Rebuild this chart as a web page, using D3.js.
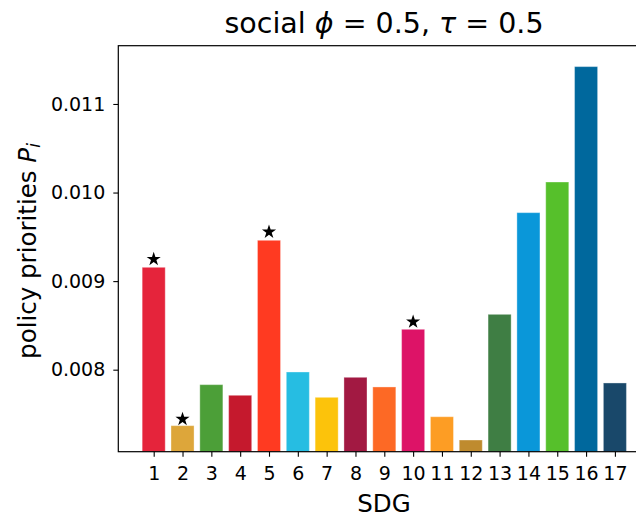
<!DOCTYPE html>
<html>
<head>
<meta charset="utf-8">
<script src="https://cdn.jsdelivr.net/npm/d3@7"></script>
<style>
  html, body { margin: 0; padding: 0; background: #fff; }
  svg { display: block; font-family: "DejaVu Sans", sans-serif; }
</style>
</head>
<body>
<svg id="chart" width="636" height="517"></svg>
<script>
// ---- data ----
const sdgs = [1, 2, 3, 4, 5, 6, 7, 8, 9, 10, 11, 12, 13, 14, 15, 16, 17];
const priorities = [0.009156, 0.007368, 0.007831, 0.007711, 0.009461, 0.007974, 0.007688, 0.007914,
                    0.007805, 0.008456, 0.007469, 0.007206, 0.008625, 0.009773, 0.010119, 0.011422, 0.007850];
const sdgColors = ["#E5243B", "#DDA63A", "#4C9F38", "#C5192D", "#FF3A21", "#26BDE2", "#FCC30B", "#A21942",
                   "#FD6925", "#DD1367", "#FD9D24", "#BF8B2E", "#3F7E44", "#0A97D9", "#56C02B", "#00689D", "#19486A"];
const starred = [1, 2, 5, 10];
const yTicks = [0.008, 0.009, 0.010, 0.011];
const yTickLabels = ["0.008", "0.009", "0.010", "0.011"];

// ---- layout ----
const svg = d3.select("#chart");
const x = d3.scaleLinear().domain([-0.228, 18.228]).range([118.3, 650.3]);
const y = d3.scaleLinear().domain([0.007074, 0.011658]).range([451.7, 45.7]);
const barW = 0.8;

const g = svg.append("g");

// bars
g.selectAll("rect.bar").data(sdgs).enter().append("rect")
  .attr("class", "bar")
  .attr("x", d => x(d - barW / 2))
  .attr("width", d => x(d + barW / 2) - x(d - barW / 2))
  .attr("y", (d, i) => y(priorities[i]))
  .attr("height", (d, i) => y(y.domain()[0]) - y(priorities[i]))
  .attr("fill", (d, i) => sdgColors[i])
  .attr("stroke", "rgba(255,255,255,0.35)")
  .attr("stroke-width", 1);

// stars
const star = d3.symbol().type(d3.symbolStar).size(62);
g.selectAll("path.star").data(starred).enter().append("path")
  .attr("class", "star")
  .attr("d", star)
  .attr("transform", d => `translate(${x(d)},${y(priorities[d - 1] * 1.01)})`)
  .attr("fill", "#000");

// axes
const yAxis = d3.axisLeft(y).tickValues(yTicks).tickFormat((d, i) => yTickLabels[i])
  .tickSizeInner(5).tickSizeOuter(0).tickPadding(8);
const yG = svg.append("g").attr("transform", `translate(${x.range()[0]},0)`).call(yAxis);
yG.select(".domain").remove();
yG.selectAll("line").attr("stroke", "#000").attr("stroke-width", 1.1);
yG.selectAll("text").attr("font-size", 19).attr("fill", "#000").attr("font-family", "DejaVu Sans");

const xAxis = d3.axisBottom(x).tickValues(sdgs).tickFormat(d3.format("d"))
  .tickSizeInner(5).tickSizeOuter(0).tickPadding(10);
const xG = svg.append("g").attr("transform", `translate(0,${y.range()[0]})`).call(xAxis);
xG.select(".domain").remove();
xG.selectAll("line").attr("stroke", "#000").attr("stroke-width", 1.1);
xG.selectAll("text").attr("font-size", 19).attr("fill", "#000").attr("font-family", "DejaVu Sans");

// spines
svg.append("rect")
  .attr("x", x.range()[0]).attr("y", y.range()[1])
  .attr("width", x.range()[1] - x.range()[0])
  .attr("height", y.range()[0] - y.range()[1])
  .attr("fill", "none").attr("stroke", "#000").attr("stroke-width", 1.2);

// labels
svg.append("text")
  .attr("x", 384).attr("y", 512)
  .attr("text-anchor", "middle").attr("font-size", 24.5).text("SDG");

const yl = svg.append("text")
  .attr("transform", "translate(36,251) rotate(-90)")
  .attr("text-anchor", "middle").attr("font-size", 24.5);
yl.append("tspan").text("policy priorities ");
yl.append("tspan").attr("font-style", "italic").text("P");
yl.append("tspan").attr("font-style", "italic").attr("font-size", 17).attr("dy", 4).text("i");

const t = svg.append("text")
  .attr("x", 384).attr("y", 32.5)
  .attr("text-anchor", "middle").attr("font-size", 28.5);
t.append("tspan").text("social ");
t.append("tspan").attr("font-style", "italic").text("ϕ");
t.append("tspan").text(" = 0.5, ");
t.append("tspan").attr("font-style", "italic").text("τ");
t.append("tspan").text(" = 0.5");
</script>
</body>
</html>
